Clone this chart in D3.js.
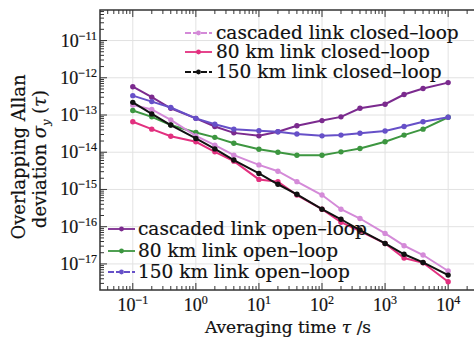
<!DOCTYPE html>
<html>
<head>
<meta charset="utf-8">
<script src="https://cdn.jsdelivr.net/npm/d3@7"></script>
<style>
body { margin: 0; background: #fff; }
svg { display: block; }
text { font-family: "DejaVu Serif", "Liberation Serif", serif; fill: #111; stroke: #111; stroke-width: 0.2; }
</style>
</head>
<body>
<svg width="474" height="338"></svg>
<script>
var svg = d3.select('svg');

// averaging times (s)
var tau = [0.1, 0.2, 0.4, 1, 2, 4, 10, 20, 40, 100, 200, 400, 1000, 2000, 4000, 10000];

// log10 of the Allan deviation
var cascOpen   = [-12.24, -12.52, -12.82, -13.09, -13.31, -13.48, -13.56, -13.45, -13.29, -13.15, -13.05, -12.82, -12.71, -12.45, -12.29, -12.13];
var open80     = [-12.88, -13.05, -13.27, -13.47, -13.60, -13.76, -13.92, -14.00, -14.08, -14.08, -13.99, -13.90, -13.72, -13.54, -13.38, -13.06];
var open150    = [-12.48, -12.64, -12.80, -13.09, -13.25, -13.38, -13.42, -13.45, -13.51, -13.56, -13.54, -13.49, -13.43, -13.31, -13.18, -13.06];
var cascClosed = [-12.73, -12.85, -13.13, -13.56, -13.81, -14.08, -14.34, -14.51, -14.79, -15.15, -15.53, -15.78, -16.18, -16.51, -16.76, -17.19];
var closed80   = [-13.18, -13.38, -13.57, -13.72, -13.99, -14.24, -14.73, -14.79, -15.15, -15.53, -15.88, -16.12, -16.45, -16.84, -16.97, -17.48];
var closed150  = [-12.66, -12.97, -13.27, -13.63, -13.91, -14.21, -14.57, -14.86, -15.13, -15.53, -15.80, -16.09, -16.45, -16.74, -16.96, -17.30];

var xTickExp = [-1, 0, 1, 2, 3, 4];
var yTickExp = [-17, -16, -15, -14, -13, -12, -11];

var series = [
    {name: 'cascaded link open\u2013loop',   vals: cascOpen,   color: '#7b2a8e', dash: null},
    {name: '80 km link open\u2013loop',      vals: open80,     color: '#3d9640', dash: null},
    {name: '150 km link open\u2013loop',     vals: open150,    color: '#6650c8', dash: '6,2'},
    {name: 'cascaded link closed\u2013loop', vals: cascClosed, color: '#d48ad8', dash: '6,2'},
    {name: '80 km link closed\u2013loop',    vals: closed80,   color: '#e2307f', dash: null},
    {name: '150 km link closed\u2013loop',   vals: closed150,  color: '#111111', dash: '6,2'}
];

var pLeft = 100, pRight = 474, pTop = 10, pBottom = 290;

var x = d3.scaleLog().domain([Math.pow(10, -1.52), Math.pow(10, 4.41)]).range([pLeft, pRight]);
var y = d3.scaleLog().domain([Math.pow(10, -17.70), Math.pow(10, -10.18)]).range([pBottom, pTop]);

// grid
var g = svg.append('g');
xTickExp.forEach(function(e){
    g.append('line')
        .attr('x1', x(Math.pow(10, e))).attr('x2', x(Math.pow(10, e)))
        .attr('y1', pTop).attr('y2', pBottom)
        .attr('stroke', '#e2e2e2').attr('stroke-width', 1);
});
yTickExp.forEach(function(e){
    g.append('line')
        .attr('x1', pLeft).attr('x2', pRight)
        .attr('y1', y(Math.pow(10, e))).attr('y2', y(Math.pow(10, e)))
        .attr('stroke', '#e2e2e2').attr('stroke-width', 1);
});

// minor + major ticks (inward)
var xt = [];
for (var e = -2; e <= 4; e++) {
    for (var m = 1; m <= 9; m++) {
        var v = m * Math.pow(10, e);
        if (x(v) > pLeft + 0.5 && x(v) < pRight) xt.push({v: v, major: m == 1});
    }
}
xt.forEach(function(d){
    var len = d.major ? 7 : 4;
    g.append('line').attr('x1', x(d.v)).attr('x2', x(d.v))
        .attr('y1', pBottom).attr('y2', pBottom - len)
        .attr('stroke', '#333').attr('stroke-width', 1);
    g.append('line').attr('x1', x(d.v)).attr('x2', x(d.v))
        .attr('y1', pTop).attr('y2', pTop + len)
        .attr('stroke', '#333').attr('stroke-width', 1);
});
var yt = [];
for (var e2 = -18; e2 <= -10; e2++) {
    for (var m2 = 1; m2 <= 9; m2++) {
        var v2 = m2 * Math.pow(10, e2);
        if (y(v2) < pBottom - 0.5 && y(v2) > pTop) yt.push({v: v2, major: m2 == 1});
    }
}
yt.forEach(function(d){
    var len = d.major ? 7 : 4;
    g.append('line').attr('x1', pLeft).attr('x2', pLeft + len)
        .attr('y1', y(d.v)).attr('y2', y(d.v))
        .attr('stroke', '#333').attr('stroke-width', 1);
});

// frame
svg.append('path')
    .attr('d', 'M' + pRight + ',' + pTop + 'H' + pLeft + 'V' + pBottom + 'H' + pRight)
    .attr('fill', 'none').attr('stroke', '#333').attr('stroke-width', 1.5);

// tick labels
xTickExp.forEach(function(e){
    var t = svg.append('text')
        .attr('x', x(Math.pow(10, e))).attr('y', 311)
        .attr('text-anchor', 'middle').attr('font-size', 18)
        .style('font-family', '"Liberation Serif", serif');
    t.append('tspan').text('10');
    t.append('tspan').attr('font-size', 12).attr('dy', -7)
        .text(e < 0 ? '\u2212' + (-e) : '' + e);
});
yTickExp.forEach(function(e){
    var t = svg.append('text')
        .attr('x', 97).attr('y', y(Math.pow(10, e)) + 6)
        .attr('text-anchor', 'end').attr('font-size', 18)
        .style('font-family', '"Liberation Serif", serif');
    t.append('tspan').text('10');
    t.append('tspan').attr('font-size', 12).attr('dy', -7)
        .text('\u2212' + (-e));
});

// axis titles
var xt1 = svg.append('text').attr('x', 288).attr('y', 333)
    .attr('text-anchor', 'middle').attr('font-size', 17);
xt1.append('tspan').text('Averaging time ');
xt1.append('tspan').attr('font-style', 'italic').text('\u03c4');
xt1.append('tspan').text(' /s');

svg.append('text')
    .attr('transform', 'translate(25,157) rotate(-90)')
    .attr('text-anchor', 'middle').attr('font-size', 18)
    .text('Overlapping Allan');
var yl = svg.append('text')
    .attr('transform', 'translate(46,159) rotate(-90)')
    .attr('text-anchor', 'middle').attr('font-size', 18);
yl.append('tspan').text('deviation ');
yl.append('tspan').attr('font-style', 'italic').text('\u03c3');
yl.append('tspan').attr('font-style', 'italic').attr('font-size', 11).attr('dy', 4).text('y');
yl.append('tspan').attr('dy', -4).text(' (');
yl.append('tspan').attr('font-style', 'italic').text('\u03c4');
yl.append('tspan').text(')');

// series
var line = d3.line()
    .x(function(d){ return x(d[0]); })
    .y(function(d){ return y(Math.pow(10, d[1])); });

series.forEach(function(s){
    var pts = tau.map(function(t, i){ return [t, s.vals[i]]; });
    svg.append('path')
        .datum(pts)
        .attr('d', line)
        .attr('fill', 'none')
        .attr('stroke', s.color)
        .attr('stroke-width', 2);
    svg.selectAll(null)
        .data(pts)
        .enter()
        .append('circle')
        .attr('cx', function(d){ return x(d[0]); })
        .attr('cy', function(d){ return y(Math.pow(10, d[1])); })
        .attr('r', 2.7)
        .attr('fill', s.color);
});

// legends
function legend(list, lx, tx, rows) {
    list.forEach(function(s, i){
        var ly = rows[i];
        svg.append('line')
            .attr('x1', lx).attr('x2', lx + 27)
            .attr('y1', ly).attr('y2', ly)
            .attr('stroke', s.color).attr('stroke-width', 1.8)
            .attr('stroke-dasharray', s.dash);
        svg.append('circle')
            .attr('cx', lx + 13.5).attr('cy', ly).attr('r', 2.4)
            .attr('fill', s.color);
        svg.append('text')
            .attr('x', tx).attr('y', ly + 6)
            .attr('font-size', 18.5)
            .text(s.name);
    });
}
legend(series.slice(3), 185, 216, [33, 52, 72]);
legend(series.slice(0, 3), 108, 138, [229, 251, 272]);
</script>
</body>
</html>
